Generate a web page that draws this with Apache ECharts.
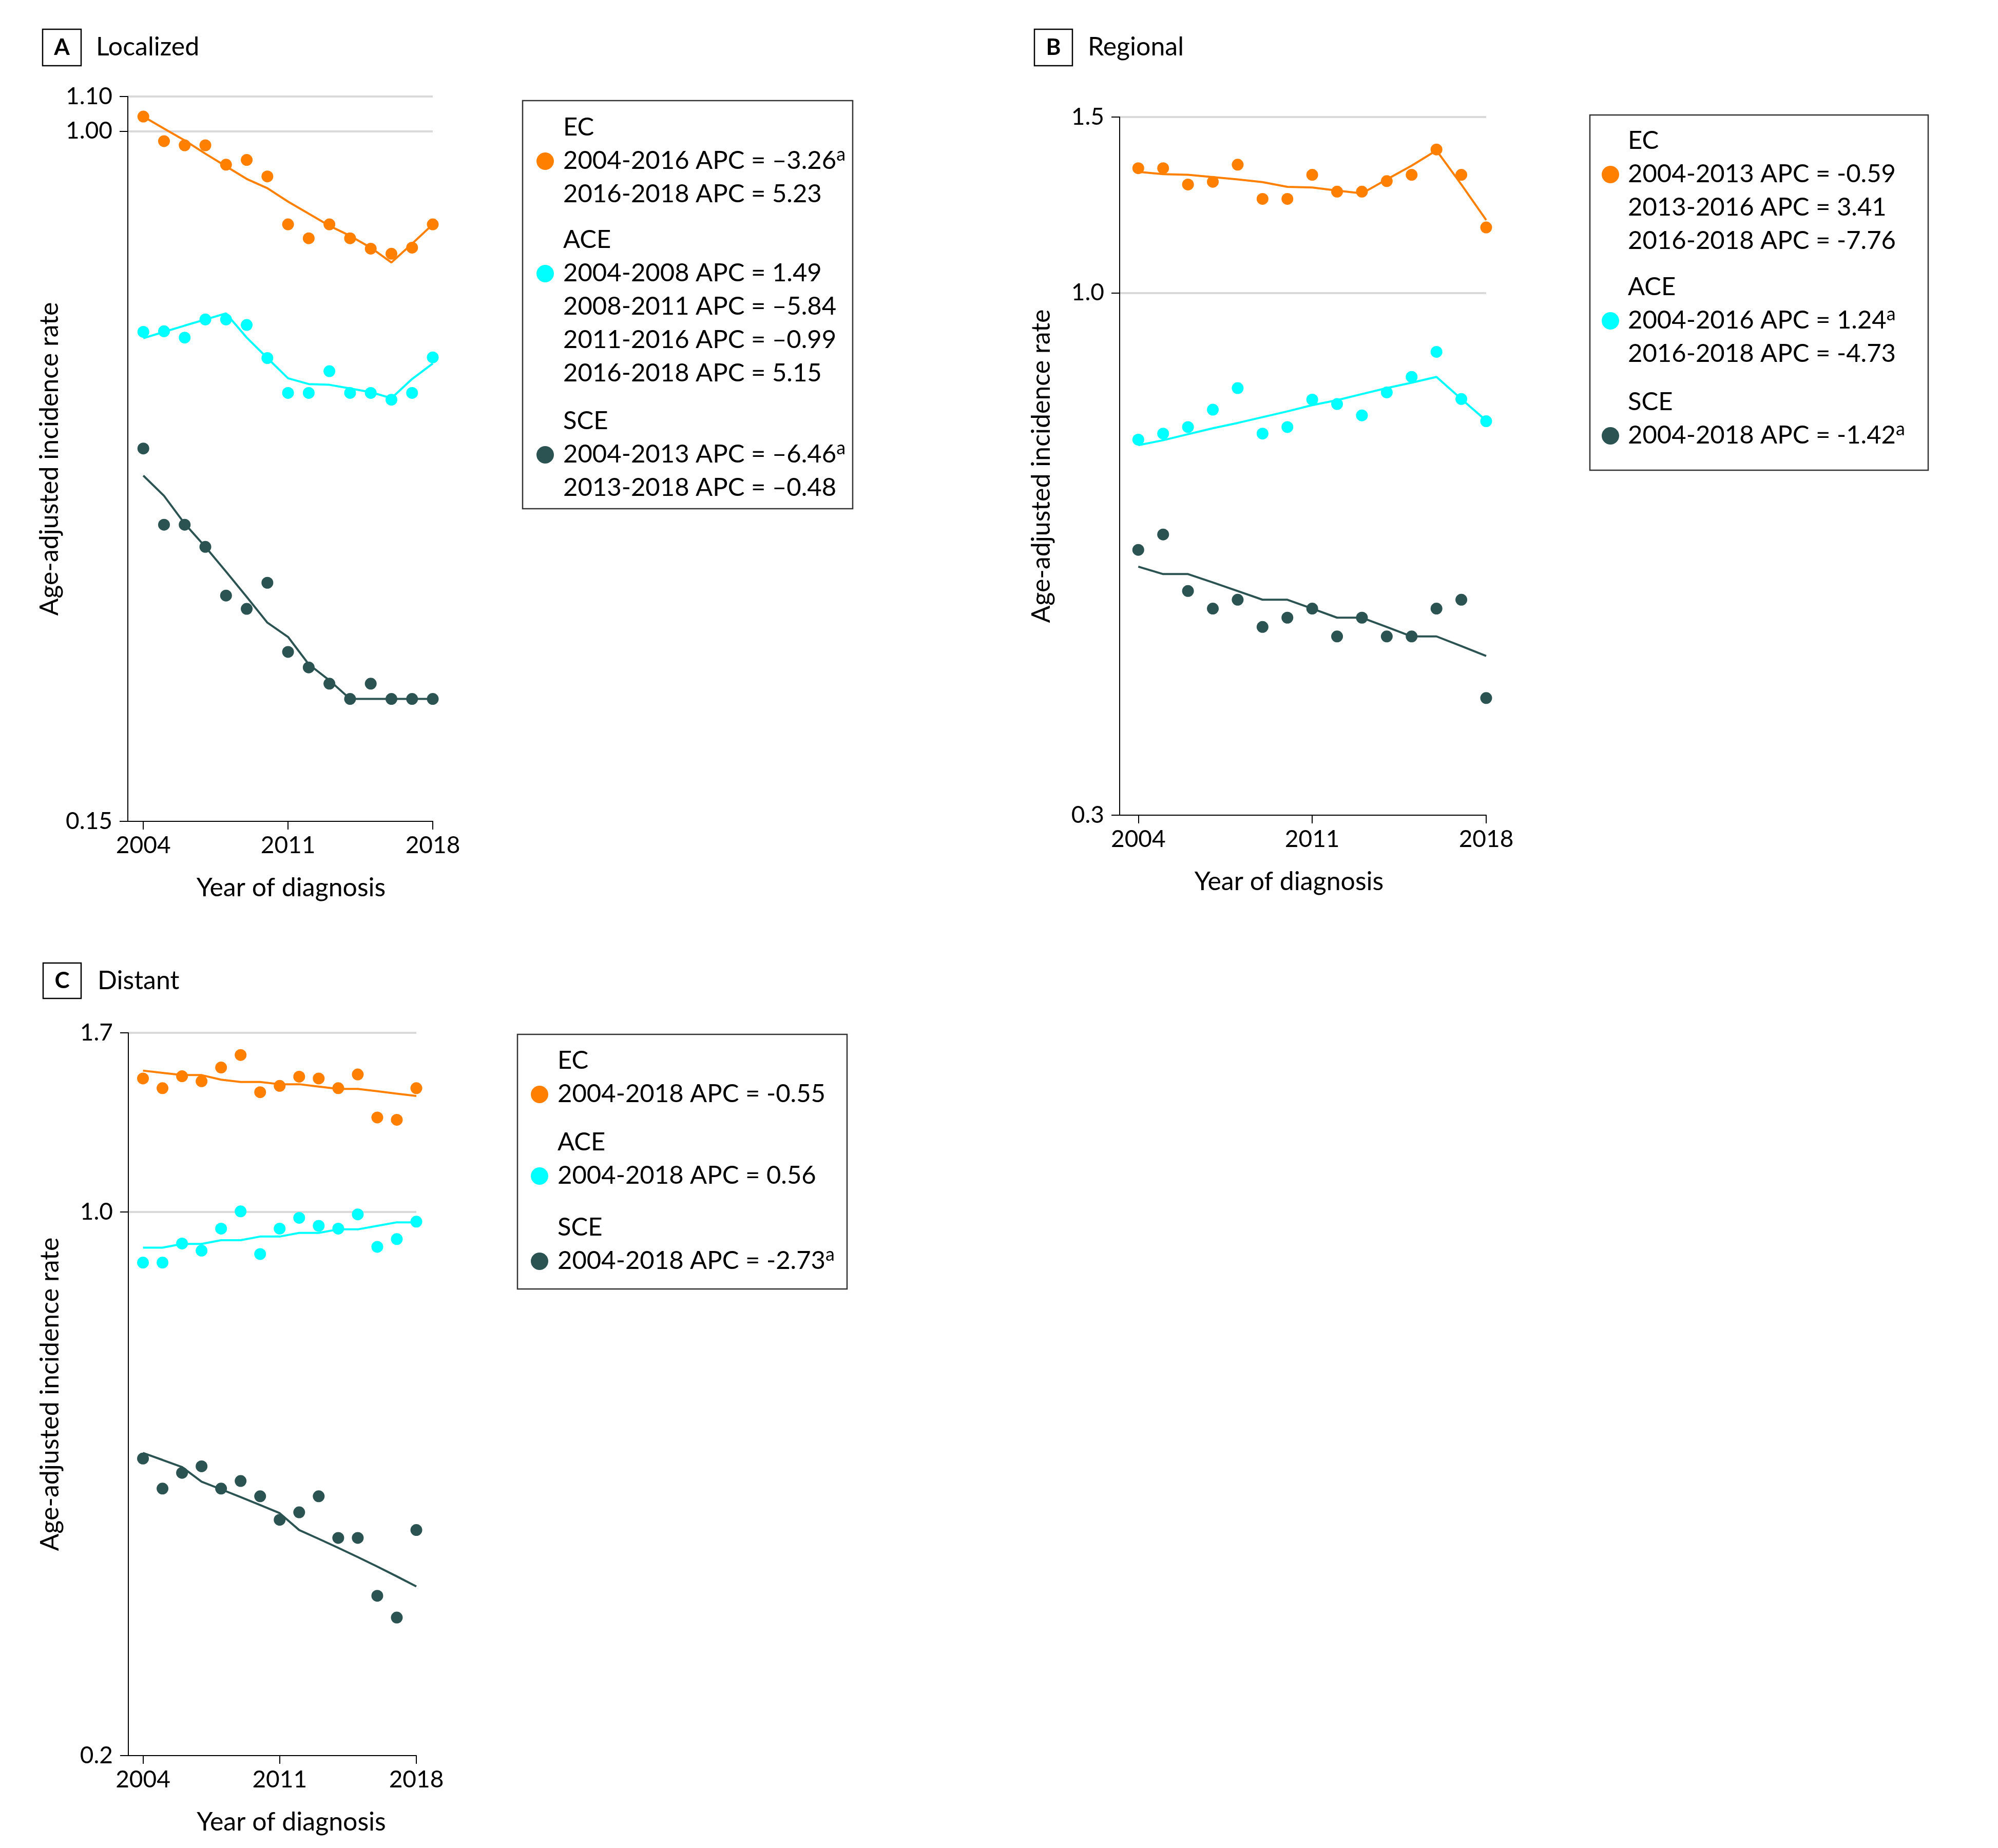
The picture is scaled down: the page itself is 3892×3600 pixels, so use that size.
<!DOCTYPE html>
<html><head><meta charset="utf-8">
<script src="https://cdn.jsdelivr.net/npm/echarts@6/dist/echarts.min.js"></script>
<style>html,body{margin:0;padding:0;background:#fff}#c{width:3892px;height:3600px}</style>
</head><body><div id="c"></div>
<script>
// ---------- data ----------
const years = [2004,2005,2006,2007,2008,2009,2010,2011,2012,2013,2014,2015,2016,2017,2018];
const xTickYears = [2004, 2011, 2018];

// Panel A - Localized
const A_EC_obs  = [1.041,0.973,0.962,0.962,0.912,0.924,0.883,0.774,0.745,0.774,0.745,0.724,0.714,0.726,0.774];
const A_EC_fit  = [1.041,1.007,0.975,0.940,0.908,0.877,0.855,0.824,0.797,0.771,0.750,0.726,0.697,0.734,0.774];
const A_ACE_obs = [0.576,0.577,0.567,0.596,0.596,0.587,0.536,0.487,0.487,0.517,0.487,0.487,0.478,0.487,0.537];
const A_ACE_fit = [0.566,0.576,0.586,0.596,0.606,0.567,0.536,0.507,0.499,0.498,0.493,0.488,0.480,0.506,0.528];
const A_SCE_obs = [0.418,0.339,0.339,0.319,0.279,0.269,0.289,0.239,0.229,0.219,0.210,0.219,0.210,0.210,0.210];
const A_SCE_fit = [0.388,0.367,0.340,0.319,0.298,0.278,0.259,0.249,0.231,0.221,0.210,0.210,0.210,0.210,0.210];

// Panel B - Regional
const B_EC_obs  = [1.333,1.333,1.284,1.292,1.344,1.242,1.242,1.313,1.263,1.263,1.294,1.313,1.392,1.313,1.163];
const B_EC_fit  = [1.322,1.315,1.313,1.306,1.299,1.291,1.277,1.275,1.266,1.258,1.299,1.341,1.389,1.284,1.183];
const B_ACE_obs = [0.713,0.723,0.734,0.764,0.803,0.723,0.734,0.782,0.774,0.754,0.795,0.824,0.873,0.783,0.744];
const B_ACE_fit = [0.704,0.712,0.722,0.732,0.741,0.751,0.761,0.772,0.781,0.792,0.803,0.813,0.824,0.783,0.745];
const B_SCE_obs = [0.553,0.573,0.503,0.483,0.493,0.463,0.473,0.483,0.453,0.473,0.453,0.453,0.483,0.493,0.393];
const B_SCE_fit = [0.532,0.523,0.523,0.513,0.503,0.493,0.493,0.483,0.473,0.473,0.463,0.453,0.453,0.443,0.433];

// Panel C - Distant
const C_EC_obs  = [1.485,1.443,1.495,1.473,1.534,1.592,1.426,1.453,1.493,1.485,1.443,1.503,1.323,1.314,1.443];
const C_EC_fit  = [1.52,1.51,1.50,1.50,1.48,1.47,1.47,1.46,1.46,1.45,1.44,1.44,1.43,1.42,1.41];
const C_ACE_obs = [0.861,0.861,0.911,0.892,0.952,1.002,0.883,0.952,0.983,0.960,0.952,0.993,0.902,0.923,0.972];
const C_ACE_fit = [0.90,0.90,0.91,0.91,0.92,0.92,0.93,0.93,0.94,0.94,0.95,0.95,0.96,0.97,0.97];
const C_SCE_obs = [0.482,0.441,0.462,0.471,0.441,0.451,0.431,0.402,0.411,0.431,0.381,0.381,0.321,0.301,0.390];
const C_SCE_fit = [0.49,0.48,0.47,0.45,0.44,0.43,0.42,0.41,0.39,0.38,0.37,0.36,0.35,0.34,0.33];

// y tick labels
const A_yTicks = [0.15, 1.00, 1.10];
const B_yTicks = [0.3, 1.0, 1.5];
const C_yTicks = [0.2, 1.0, 1.7];

// groups and legend text ([text, superscript-a])
const groupNames = ['EC', 'ACE', 'SCE'];
const A_legend = [
  [['2004-2016 APC = \u20133.26', true], ['2016-2018 APC = 5.23', false]],
  [['2004-2008 APC = 1.49', false], ['2008-2011 APC = \u20135.84', false], ['2011-2016 APC = \u20130.99', false], ['2016-2018 APC = 5.15', false]],
  [['2004-2013 APC = \u20136.46', true], ['2013-2018 APC = \u20130.48', false]]
];
const B_legend = [
  [['2004-2013 APC = -0.59', false], ['2013-2016 APC = 3.41', false], ['2016-2018 APC = -7.76', false]],
  [['2004-2016 APC = 1.24', true], ['2016-2018 APC = -4.73', false]],
  [['2004-2018 APC = -1.42', true]]
];
const C_legend = [
  [['2004-2018 APC = -0.55', false]],
  [['2004-2018 APC = 0.56', false]],
  [['2004-2018 APC = -2.73', true]]
];
const panelLetters = ['A', 'B', 'C'];
const panelTitles = ['Localized', 'Regional', 'Distant'];
const xName = 'Year of diagnosis';
const yName = 'Age-adjusted incidence rate';

// ---------- style / layout ----------
const COLORS = ['#FF8000', '#00FFFF', '#2B5352'];
const FONT = 'Lato';
const panels = [
  { obs: [A_EC_obs, A_ACE_obs, A_SCE_obs], fit: [A_EC_fit, A_ACE_fit, A_SCE_fit],
    yTicks: A_yTicks, dec: 2, min: 0.15, max: 1.10,
    grid: {left: 249, top: 188, width: 594, height: 1412}, xPad: [0,0,0,42],
    legend: A_legend, box: [1018, 196, 1661, 991], textX: 1097, circX: 1062, headY: [248, 467, 820],
    title: {box: [83, 57, 75, 71], textX: 187, y: 92} },
  { obs: [B_EC_obs, B_ACE_obs, B_SCE_obs], fit: [B_EC_fit, B_ACE_fit, B_SCE_fit],
    yTicks: B_yTicks, dec: 1, min: 0.3, max: 1.5,
    grid: {left: 2181, top: 228, width: 714, height: 1360}, xPad: [0,54,0,0],
    legend: B_legend, box: [3097, 224, 3756, 916], textX: 3171, circX: 3137, headY: [274, 559, 783],
    title: {box: [2015, 57, 74, 71], textX: 2119, y: 92} },
  { obs: [C_EC_obs, C_ACE_obs, C_SCE_obs], fit: [C_EC_fit, C_ACE_fit, C_SCE_fit],
    yTicks: C_yTicks, dec: 1, min: 0.2, max: 1.7,
    grid: {left: 250, top: 2012, width: 561, height: 1408}, xPad: [0,0,0,74],
    legend: C_legend, box: [1008, 2015, 1650, 2511], textX: 1086, circX: 1051, headY: [2066, 2225, 2391],
    title: {box: [84, 1876, 74, 69], textX: 190, y: 1911} }
];
const LINE_STEP = 65;

const grids = [], xAxes = [], yAxes = [], series = [], graphics = [];
panels.forEach((p, pi) => {
  grids.push(Object.assign({containLabel: false}, p.grid));
  xAxes.push({
    type: 'value', gridIndex: pi, min: 2003.25, max: 2018,
    axisLine: {show: true, onZero: false, lineStyle: {color: '#000', width: 2}},
    axisTick: {show: true, customValues: xTickYears, length: 16, lineStyle: {color: '#000', width: 2}},
    axisLabel: {show: true, customValues: xTickYears, margin: 24, fontSize: 46, fontFamily: FONT, color: '#000',
      formatter: v => String(Math.round(v))},
    splitLine: {show: false},
    name: xName, nameLocation: 'middle', nameGap: 105,
    nameTextStyle: {fontSize: 50, fontFamily: FONT, color: '#000', padding: p.xPad}
  });
  yAxes.push({
    type: 'log', gridIndex: pi, min: p.min, max: p.max,
    axisLine: {show: true, lineStyle: {color: '#000', width: 2}},
    axisTick: {show: true, customValues: p.yTicks, length: 16, lineStyle: {color: '#000', width: 2}},
    axisLabel: {show: true, customValues: p.yTicks, margin: 30, fontSize: 46, fontFamily: FONT, color: '#000',
      formatter: v => Number(v).toFixed(p.dec)},
    splitLine: {show: true, showMinLine: false, lineStyle: {color: '#d9d9d9', width: 4}},
    minorTick: {show: false}, minorSplitLine: {show: false},
    name: yName, nameLocation: 'middle', nameGap: 127,
    nameTextStyle: {fontSize: 50, fontFamily: FONT, color: '#000'}
  });
  groupNames.forEach((g, gi) => {
    series.push({
      type: 'line', name: g + ' fit ' + pi, xAxisIndex: pi, yAxisIndex: pi,
      data: years.map((y, i) => [y, p.fit[gi][i]]),
      showSymbol: false, symbol: 'none', lineStyle: {color: COLORS[gi], width: 4}, z: 2, silent: true
    });
    series.push({
      type: 'scatter', name: g + ' ' + pi, xAxisIndex: pi, yAxisIndex: pi,
      data: years.map((y, i) => [y, p.obs[gi][i]]),
      symbol: 'circle', symbolSize: 23, itemStyle: {color: COLORS[gi], opacity: 1}, z: 3, silent: true
    });
  });

  // panel title
  const t = p.title;
  graphics.push({type: 'rect', shape: {x: t.box[0], y: t.box[1], width: t.box[2], height: t.box[3]},
    style: {fill: 'none', stroke: '#000', lineWidth: 2.5}});
  graphics.push({type: 'text', x: t.box[0] + t.box[2] / 2, y: t.box[1] + t.box[3] / 2,
    style: {text: panelLetters[pi], fontSize: 44, fontWeight: 'bold', fontFamily: FONT, fill: '#000', align: 'center', verticalAlign: 'middle'}});
  graphics.push({type: 'text', x: t.textX, y: t.y,
    style: {text: panelTitles[pi], fontSize: 50, fontFamily: FONT, fill: '#000', align: 'left', verticalAlign: 'middle'}});

  // legend box
  const b = p.box;
  graphics.push({type: 'rect', shape: {x: b[0], y: b[1], width: b[2] - b[0], height: b[3] - b[1]},
    style: {fill: 'none', stroke: '#333', lineWidth: 2.5}});
  p.legend.forEach((lines, gi) => {
    const hy = p.headY[gi];
    graphics.push({type: 'text', x: p.textX, y: hy,
      style: {text: groupNames[gi], fontSize: 49, fontFamily: FONT, fill: '#000', align: 'left', verticalAlign: 'middle'}});
    graphics.push({type: 'circle', shape: {cx: p.circX, cy: hy + LINE_STEP + 1, r: 17}, style: {fill: COLORS[gi]}});
    lines.forEach((ln, li) => {
      graphics.push({type: 'text', x: p.textX, y: hy + LINE_STEP * (li + 1),
        style: {
          text: '{m|' + ln[0] + '}' + (ln[1] ? '{s|a}' : ''),
          align: 'left', verticalAlign: 'middle',
          rich: {
            m: {fontSize: 49, fontFamily: FONT, fill: '#000', lineHeight: 60},
            s: {fontSize: 36, fontFamily: FONT, fill: '#000', lineHeight: 38, verticalAlign: 'top'}
          }
        }});
    });
  });
});

const chart = echarts.init(document.getElementById('c'), null, {renderer: 'canvas'});
chart.setOption({
  animation: false,
  backgroundColor: '#fff',
  textStyle: {fontFamily: FONT},
  grid: grids, xAxis: xAxes, yAxis: yAxes, series: series,
  graphic: {elements: graphics}
});
</script>
</body></html>
